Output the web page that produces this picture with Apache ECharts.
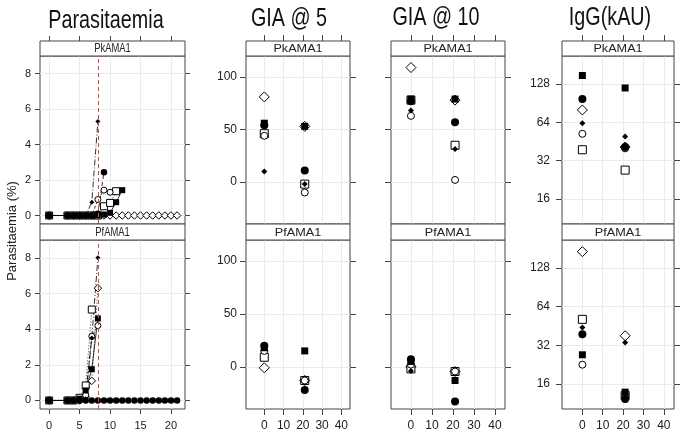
<!DOCTYPE html>
<html><head><meta charset="utf-8">
<script src="https://cdn.jsdelivr.net/npm/echarts@6/dist/echarts.min.js"></script>
<style>html,body{margin:0;padding:0;background:#fff}#c{width:685px;height:436px}</style>
</head><body><div id="c"></div>
<script>
// ================= DATA =================
// Animals, in this order: filled square, filled circle, open diamond, small filled diamond, open circle, open square
const animals = ['A1', 'A2', 'A3', 'A4', 'A5', 'A6'];
const panelNames = ['PkAMA1', 'PfAMA1'];
const columnTitles = ['Parasitaemia', 'GIA @ 5', 'GIA @ 10', 'IgG(kAU)'];
const yAxisTitle = 'Parasitaemia (%)';

// Parasitaemia time course (days after challenge)
const days = [0, 3, 4, 5, 6, 7, 8, 9, 10, 11, 12, 13, 14, 15, 16, 17, 18, 19, 20, 21];
const treatDay = 8;
// PkAMA1 panel, one array per animal (values aligned with days; missing = not sampled)
const paraPk_A1 = [0, 0, 0, 0, 0, 0, 0, 0.05, 0.15, 0.75, 1.43];
const paraPk_A2 = [0, 0, 0, 0, 0, 0, 0.1, 2.44];
const paraPk_A3 = [0, 0, 0, 0, 0, 0, 0, 0, 0, 0, 0, 0, 0, 0, 0, 0, 0, 0, 0, 0];
const paraPk_A4 = [0, 0, 0, 0, 0, 0.75, 5.3];
const paraPk_A5 = [0, 0, 0, 0, 0, 0, 0.9, 1.43, 1.31];
const paraPk_A6 = [0, 0, 0, 0, 0, 0, 0, 0.52, 0.71, 1.37];
// PfAMA1 panel
const paraPf_A1 = [0, 0, 0, 0.1, 0.56, 1.75, 4.6];
const paraPf_A2 = [0, 0, 0, 0, 0, 0, 0, 0, 0, 0, 0, 0, 0, 0, 0, 0, 0, 0, 0, 0];
const paraPf_A3 = [0, 0, 0, 0, 0.2, 1.1, 6.3];
const paraPf_A4 = [0, 0, 0, 0, 0.1, 3.5, 8.0];
const paraPf_A5 = [0, 0, 0, 0, 0.3, 3.6, 4.2];
const paraPf_A6 = [0, 0, 0, 0.15, 0.84, 5.1];

// Dot plots: sampling days, values per animal (order A1..A6)
const sampleDays = [0, 21];
const gia5Pk_d0  = [56, 54, 81, 10, 44, 46];
const gia5Pk_d21 = [53, 11, 53, -2, -10, -2];
const gia5Pf_d0  = [18, 20, -1, 19, 15, 9];
const gia5Pf_d21 = [15, -22, -13, -21, -13, -13];
const gia10Pk_d0  = [79, 77, 109, 68, 63, 78];
const gia10Pk_d21 = [79, 57, 78, 31.5, 2, 35];
const gia10Pf_d0  = [5, 7, 0, -4, 2, -2];
const gia10Pf_d21 = [-13, -33, -4.5, -33, -4.5, -4.5];
const iggPk_d0  = [149, 97.6, 80, 63, 52, 39];
const iggPk_d21 = [119, 41, 41, 49.5, 40, 27];
const iggPf_d0  = [27, 39, 172, 44, 22.6, 51];
const iggPf_d21 = [13.8, 12.2, 38, 33.7, 13, 13];

// Tick labels
const paraDayTicks = [0, 5, 10, 15, 20];
const paraTicks = [0, 2, 4, 6, 8];
const sampleDayTicks = [0, 10, 20, 30, 40];
const giaTicks = [0, 50, 100];
const iggTicks = [16, 32, 64, 128];

// ================= STYLE / LAYOUT =================
const FONT = "'Liberation Sans', Arial, Helvetica, sans-serif";
const NARROW = "'Liberation Sans Narrow', 'Liberation Sans', Arial, sans-serif";
const FRAME = '#444';
const GRIDLINE = '#ebebeb';
const TXT = '#222';

const paraSeries = [
  [paraPk_A1, paraPk_A2, paraPk_A3, paraPk_A4, paraPk_A5, paraPk_A6],
  [paraPf_A1, paraPf_A2, paraPf_A3, paraPf_A4, paraPf_A5, paraPf_A6]
];
const dotSeries = [
  null,
  [[gia5Pk_d0, gia5Pk_d21], [gia5Pf_d0, gia5Pf_d21]],
  [[gia10Pk_d0, gia10Pk_d21], [gia10Pf_d0, gia10Pf_d21]],
  [[iggPk_d0, iggPk_d21], [iggPf_d0, iggPf_d21]]
];

// symbol styles per animal
const sty = [
  { symbol: 'rect', fill: '#000', border: 0, size: 7, sizeP: 6, dash: 'solid' },
  { symbol: 'circle', fill: '#000', border: 0, size: 8, sizeP: 6.5, dash: [4, 3] },
  { symbol: 'diamond', fill: '#fff', border: 1, size: 10, sizeP: 7.5, dash: [1, 2] },
  { symbol: 'diamond', fill: '#000', border: 0, size: 6, sizeP: 5, dash: [6, 2, 1, 2] },
  { symbol: 'circle', fill: '#fff', border: 1, size: 7, sizeP: 6, dash: [3, 2] },
  { symbol: 'rect', fill: '#fff', border: 1, size: 8, sizeP: 7, dash: [1, 2] }
];
const drawOrder = [2, 5, 4, 1, 0, 3];

const cols = [
  { left: 40, right: 185, xr: [-1.5, 22.3], xt: paraDayTicks, yr: [-0.48, 9.0], yt: paraTicks, log: false, yLab: true, font: NARROW, fs: 11, ym: 9, xm: 11, tl: 5, sf: 12, sx: 0.78 },
  { left: 246, right: 350, xr: [-9.5, 44.5], xt: sampleDayTicks, yr: [-40, 120], yt: giaTicks, log: false, yLab: true, font: FONT, fs: 12, ym: 9, xm: 11, tl: 6, sf: 11.5, sx: 1.1 },
  { left: 391, right: 505, xr: [-9.5, 44.8], xt: sampleDayTicks, yr: [-40, 120], yt: giaTicks, log: false, yLab: false, font: FONT, fs: 12, ym: 9, xm: 11, tl: 6, sf: 11.5, sx: 1.1 },
  { left: 562, right: 674, xr: [-10, 45], xt: sampleDayTicks, yr: [10.2, 212], yt: iggTicks, log: true, yLab: true, font: FONT, fs: 12, ym: 12, xm: 11, tl: 6, sf: 11.5, sx: 1.1 }
];
const rows = [
  { top: 56, bottom: 224, stripTop: 41 },
  { top: 240, bottom: 409, stripTop: 224 }
];

const grid = [], xAxis = [], yAxis = [], series = [], graphic = [];
const extraX = [], extraY = [];
const noLine = { show: false, onZero: false };

cols.forEach((c, ci) => {
  rows.forEach((r, ri) => {
    const g = ci * 2 + ri;
    grid.push({ left: c.left, top: r.top, width: c.right - c.left, height: r.bottom - r.top,
      show: true, borderColor: FRAME, borderWidth: 1, backgroundColor: 'transparent', containLabel: false, outerBoundsMode: 'none' });
    const lab = { color: TXT, fontSize: c.fs, fontFamily: c.font };
    xAxis.push({ type: 'value', gridIndex: g, min: c.xr[0], max: c.xr[1], position: 'bottom',
      axisLine: noLine,
      axisTick: { show: ri === 1, length: c.tl, customValues: c.xt, lineStyle: { color: FRAME } },
      axisLabel: { show: ri === 1, customValues: c.xt, margin: c.xm, ...lab },
      splitLine: { show: true, lineStyle: { color: GRIDLINE, width: 1 } } });
    yAxis.push({ type: c.log ? 'log' : 'value', logBase: 2, gridIndex: g, min: c.yr[0], max: c.yr[1], position: 'left',
      axisLine: noLine,
      axisTick: { show: true, length: c.tl, customValues: c.yt, lineStyle: { color: FRAME } },
      axisLabel: { show: c.yLab, customValues: c.yt, margin: c.ym, ...lab },
      splitLine: { show: true, lineStyle: { color: GRIDLINE, width: 1 } } });
    extraY.push({ type: c.log ? 'log' : 'value', logBase: 2, gridIndex: g, min: c.yr[0], max: c.yr[1], position: 'right',
      axisLine: noLine,
      axisTick: { show: true, length: c.tl, customValues: c.yt, lineStyle: { color: FRAME } },
      axisLabel: { show: false }, splitLine: { show: false } });
    if (ri === 0) {
      extraX.push({ type: 'value', gridIndex: g, min: c.xr[0], max: c.xr[1], position: 'top', offset: r.top - r.stripTop,
        axisLine: noLine,
        axisTick: { show: true, length: c.tl, customValues: c.xt, lineStyle: { color: FRAME } },
        axisLabel: { show: false }, splitLine: { show: false } });
    }
    // strip
    const sh = r.top - r.stripTop;
    graphic.push({ type: 'rect', z: 100, shape: { x: c.left, y: r.stripTop, width: c.right - c.left, height: sh },
      style: { fill: '#fff', stroke: FRAME, lineWidth: 1 } });
    graphic.push({ type: 'text', z: 101, x: (c.left + c.right) / 2, y: r.stripTop + sh / 2 + 0.5,
      scaleX: c.sx,
      style: { text: panelNames[ri], fill: TXT, font: c.sf + 'px ' + FONT,
        textAlign: 'center', textVerticalAlign: 'middle', align: 'center', verticalAlign: 'middle' } });

    // series
    drawOrder.forEach(k => {
      const s = sty[k];
      const itemStyle = { color: s.fill, borderColor: '#000', borderWidth: s.border, opacity: 1 };
      if (ci === 0) {
        const arr = paraSeries[ri][k];
        const data = [];
        arr.forEach((v, i) => { if (v !== null && v !== undefined) data.push([days[i], v]); });
        const ser = { type: 'line', name: animals[k], xAxisIndex: g, yAxisIndex: g, data,
          symbol: s.symbol, symbolSize: s.sizeP, showSymbol: true, showAllSymbol: true,
          itemStyle, lineStyle: { color: '#000', width: 0.8, type: s.dash },
          emphasis: { disabled: true }, silent: true, animation: false, clip: true };
        if (k === drawOrder[drawOrder.length - 1]) {
          ser.markLine = { silent: true, symbol: ['none', 'none'], label: { show: false },
            lineStyle: { color: '#d9443c', type: [4, 3], width: 1 }, data: [{ xAxis: treatDay }], animation: false };
        }
        series.push(ser);
      } else {
        const pair = dotSeries[ci][ri];
        const data = sampleDays.map((d, j) => [d, pair[j][k]]);
        series.push({ type: 'scatter', name: animals[k], xAxisIndex: g, yAxisIndex: g, data,
          symbol: s.symbol, symbolSize: s.size, itemStyle,
          emphasis: { disabled: true }, silent: true, animation: false, clip: true });
      }
    });
  });
});

extraX.forEach(a => xAxis.push(a));
extraY.forEach(a => yAxis.push(a));

// titles
const titlePos = [[106, 21], [289, 19], [436, 18], [610, 18]];
columnTitles.forEach((t, i) => {
  graphic.push({ type: 'text', z: 101, x: titlePos[i][0], y: titlePos[i][1], scaleX: 0.76,
    style: { text: t, fill: '#111', font: '26px ' + FONT, textAlign: 'center', textVerticalAlign: 'middle', align: 'center', verticalAlign: 'middle' } });
});
graphic.push({ type: 'text', z: 101, x: 12, y: 231, rotation: Math.PI / 2,
  style: { text: yAxisTitle, fill: TXT, font: '13px ' + FONT, textAlign: 'center', textVerticalAlign: 'middle', align: 'center', verticalAlign: 'middle' } });

const chart = echarts.init(document.getElementById('c'), null, { renderer: 'canvas' });
chart.setOption({
  animation: false,
  backgroundColor: '#fff',
  grid, xAxis, yAxis, series, graphic,
  tooltip: { show: false }
});
</script>
</body></html>
